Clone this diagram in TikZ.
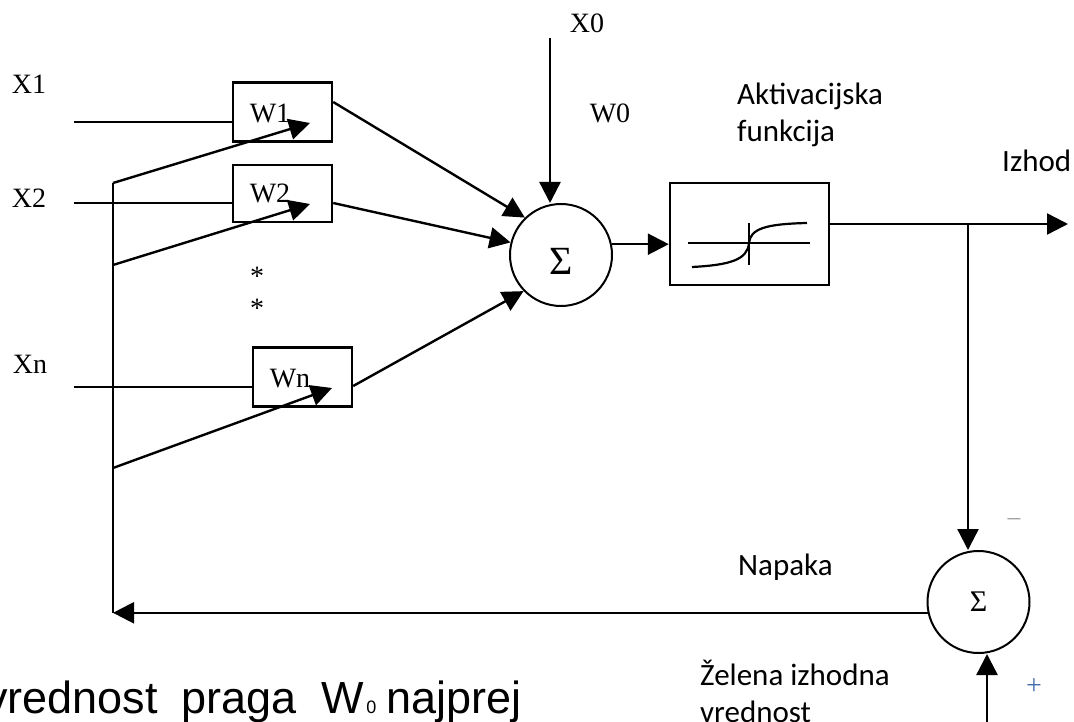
\documentclass[tikz,border=0pt]{standalone}
\usepackage{fontspec}
\setmainfont{Liberation Serif}
\newfontfamily\calibri{Carlito}
\newfontfamily\arial{Liberation Sans}
\usepackage{xcolor}
\usepackage{tikz}
\usetikzlibrary{arrows.meta, positioning}
\definecolor{signGray}{RGB}{165,165,165}
\definecolor{signBlue}{RGB}{70,110,170}
\tikzstyle{weightBox} = [draw, rectangle, line width=2.4pt, minimum width=99pt, minimum height=59pt, inner sep=0]
\tikzstyle{sumNode} = [draw, circle, line width=2pt, minimum size=102pt, inner sep=0]
\tikzstyle{sigLine} = [line width=2.4pt]
\tikzstyle{sigArrow} = [line width=2.4pt, -{Triangle[length=21pt,width=21pt]}]
\tikzstyle{timesText} = [inner sep=0, anchor=base, font=\fontsize{28}{30}\selectfont]
\tikzstyle{noteText} = [inner sep=0, anchor=base west, align=left, font=\calibri\fontsize{31}{37}\selectfont]

\begin{document}
\begin{tikzpicture}[x=1pt, y=1pt]
		\useasboundingbox (0,0) rectangle (1074,-722);
		\node[weightBox] (w1) at (282.5,-112) {};											% Gewicht 1
		\node[weightBox, below of=w1, node distance=81.5pt, minimum height=57pt] (w2) {};	% Gewicht 2
		\node[weightBox] (wn) at (302.5,-377) {};											% Gewicht n
		\node[sumNode, text height=40pt, text depth=0pt, font=\fontsize{40}{40}\selectfont] (sum) at (561,-255) {Σ};	% Summierer
		\node[draw, rectangle, line width=2.4pt, minimum width=159pt, minimum height=102pt] (act) at (749.5,-234) {};	% Aktivierung
		\node[sumNode, font=\fontsize{30}{30}\selectfont] (err) at (978.5,-602) {Σ};		% Fehlersumme
		\coordinate (x1) at (74,-122);		% Eingaenge
		\coordinate (x2) at (74,-203);
		\coordinate (xn) at (74,-387);
		\coordinate (x0) at (550,-38);		% Schwelle
		\coordinate (bus1) at (113,-183);	% Rueckfuehrung
		\coordinate (bus2) at (113,-265);
		\coordinate (busn) at (113,-468);
		\coordinate (bus-end) at (113,-613);
		\coordinate (w1-tip) at (310,-123);
		\coordinate (w2-tip) at (310,-204);
		\coordinate (wn-tip) at (332,-388);
		\coordinate (out) at (1068,-224);		% Ausgang
		\coordinate (branch) at (968,-224);
		\coordinate (desired) at (987,-722);	% Sollwert

		% Texte
		\node[timesText] (x1-label) at (29,-94) {X1};
		\node[timesText] (x2-label) at (29,-208) {X2};
		\node[timesText] (xn-label) at (30,-373) {Xn};
		\node[timesText] (x0-label) at (587,-33) {X0};
		\node[timesText] (w0-label) at (610,-123) {W0};
		\node[timesText] (w1-label) at (270,-123) {W1};
		\node[timesText] (w2-label) at (270,-203) {W2};
		\node[timesText] (wn-label) at (290,-387) {Wn};
		\node[timesText] (dots1) at (257,-286) {*};
		\node[timesText] (dots2) at (257,-317) {*};
		\node[noteText] (act-label) at (737,-142) {Aktivacijska\\funkcija};	% Basis = letzte Zeile
		\node[noteText] (out-label) at (1002,-172) {Izhod};
		\node[noteText] (err-label) at (738,-575) {Napaka};
		\node[noteText] (desired-label) at (700,-722) {Želena izhodna\\vrednost};
		\node[timesText, text=signGray] (minus) at (1014,-528) {−};
		\node[timesText, text=signBlue] (plus) at (1034,-694) {+};
		\node[inner sep=0, anchor=base west, font=\arial\fontsize{45}{45}\selectfont] (note) at (-15,-713)
			{vrednost\hspace{24pt}praga\hspace{25pt}W\hspace{2pt}{\fontsize{18}{18}\selectfont 0}\hspace{10pt}najprej};

		% Eingaenge in die Gewichte
		\draw[sigLine] (x1) -- (x1 -| w1.west);
		\draw[sigLine] (x2) -- (x2 -| w2.west);
		\draw[sigLine] (xn) -- (xn -| wn.west);
		% Anpassung der Gewichte
		\draw[sigLine] (bus1) -- (bus-end);
		\draw[sigArrow] (bus1) -- (w1-tip);
		\draw[sigArrow] (bus2) -- (w2-tip);
		\draw[sigArrow] (busn) -- (wn-tip);
		% gewichtete Eingaenge zum Summierer
		\draw[sigArrow] ([yshift=10pt]w1.east) -- (sum.134);
		\draw[sigArrow] ([yshift=-9.5pt]w2.east) -- (sum.166);
		\draw[sigArrow] ([yshift=-9pt]wn.east) -- (sum.224);
		\draw[sigArrow] (x0) -- (x0 |- sum.north);
		\draw[sigArrow] (sum.12) -- (sum.12 -| act.west);
		\draw[sigArrow] (act.east |- out) -- (out);
		% Fehler
		\draw[sigArrow] (branch) -- (branch |- err.north);
		\draw[sigArrow] (desired) -- (desired |- err.south);
		\draw[sigArrow] (err.192) -- (err.192 -| bus-end);

		% Sigmoid in der Box
		\begin{scope}[shift={(act.center)}, line width=2.2pt]
			\draw (-61.5,-9) -- (60.5,-9);
			\draw (-0.5,11) -- (-0.5,-31);
			\draw (-57.5,-33) .. controls (-20,-31) and (-2,-26) .. (-0.5,-9)
				.. controls (1,5) and (15,10) .. (57.5,11);
		\end{scope}
\end{tikzpicture}
\end{document}
